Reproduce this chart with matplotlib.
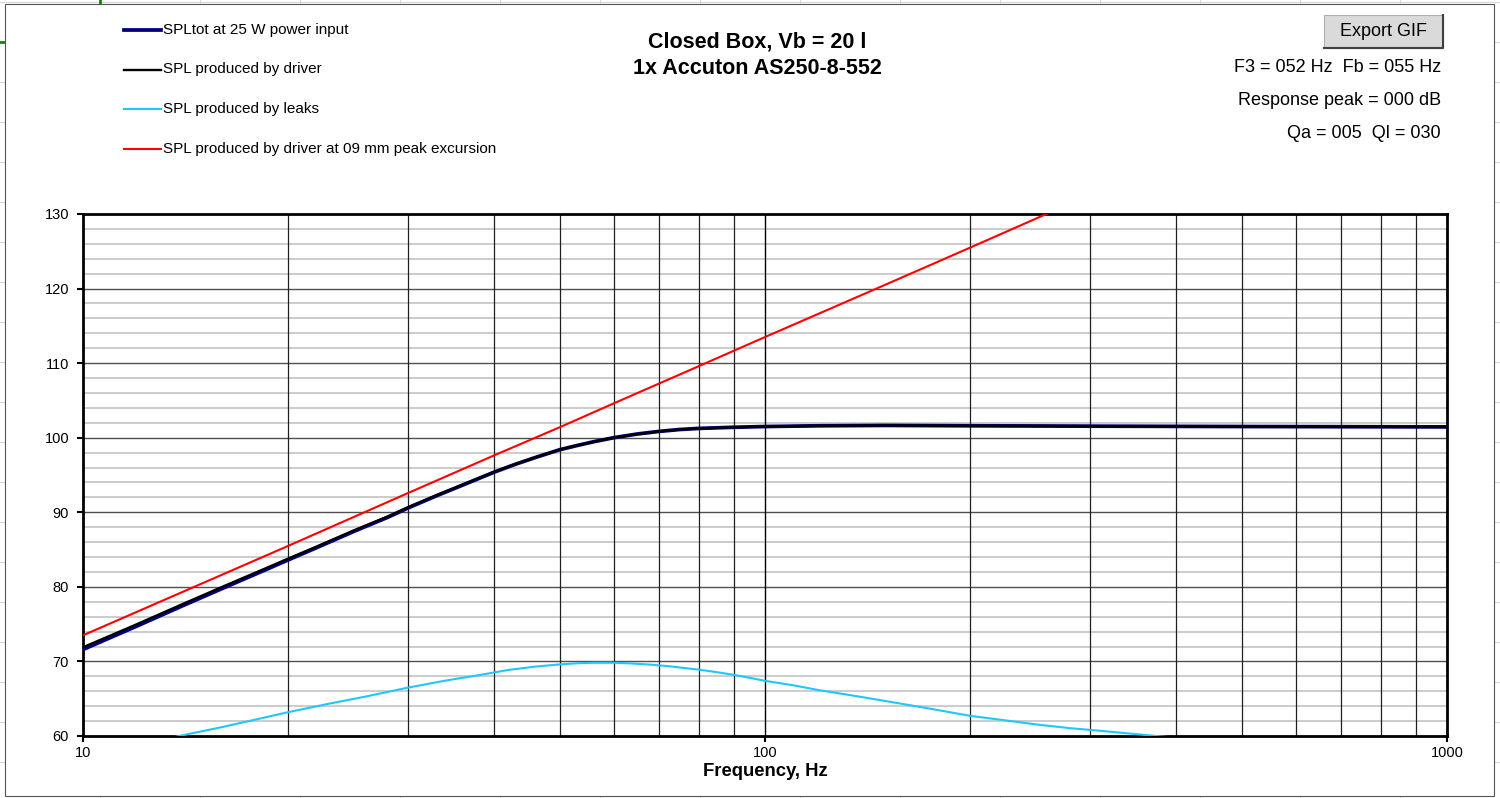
import numpy as np
import matplotlib.pyplot as plt
from matplotlib.lines import Line2D
from matplotlib.patches import Rectangle

plt.rcParams['font.family'] = ['Liberation Sans', 'DejaVu Sans']

# ---------------- data ----------------
# SPLtot at 25 W (blue) and SPL of driver (black)
f_main = [10, 12, 14, 16, 18, 20, 22, 25, 28, 30, 33, 36, 40, 43, 46, 50, 53, 56,
          60, 65, 70, 75, 80, 90, 100, 120, 150, 200, 300, 500, 1000]
spl_drv = [71.9, 75.0, 77.7, 80.0, 82.0, 83.8, 85.4, 87.6, 89.45, 90.7, 92.3, 93.7,
           95.4, 96.45, 97.35, 98.4, 98.95, 99.45, 100.0, 100.5, 100.85, 101.1, 101.25,
           101.4, 101.5, 101.6, 101.65, 101.6, 101.55, 101.5, 101.45]
spl_tot = [71.6, 74.75, 77.47, 79.78, 81.8, 83.62, 85.25, 87.47, 89.34, 90.6, 92.22,
           93.63, 95.35, 96.42, 97.33, 98.39, 98.95, 99.45, 100.0, 100.5, 100.85, 101.1,
           101.25, 101.4, 101.5, 101.6, 101.65, 101.6, 101.55, 101.5, 101.45]

# SPL produced by leaks (cyan)
f_leak = [12, 14, 16, 18, 20, 23, 26, 30, 34, 38, 42, 46, 50, 53, 56, 60, 64, 68,
          72, 76, 80, 85, 90, 95, 100, 110, 120, 135, 150, 175, 200, 225, 250, 280,
          310, 350, 380, 420]
spl_leak = [58.7, 60.1, 61.2, 62.25, 63.2, 64.35, 65.3, 66.5, 67.43, 68.15, 68.85,
            69.3, 69.6, 69.75, 69.82, 69.82, 69.72, 69.57, 69.37, 69.13, 68.9, 68.56,
            68.2, 67.8, 67.4, 66.8, 66.15, 65.4, 64.7, 63.65, 62.7, 62.1, 61.55, 61.05,
            60.7, 60.25, 59.95, 59.6]

# SPL at 09 mm peak excursion (red)
f_xmax = [10, 20, 30, 40, 50, 60, 80, 100, 150, 200, 300]
spl_xmax = [73.5, 85.5, 92.6, 97.6, 101.4, 104.6, 109.6, 113.5, 120.5, 125.5, 132.6]

legend_labels = ['SPLtot at 25 W power input', 'SPL produced by driver',
                 'SPL produced by leaks', 'SPL produced by driver at 09 mm peak excursion']
info_lines = ['F3 = 052 Hz  Fb = 055 Hz', 'Response peak = 000 dB', 'Qa = 005  Ql = 030']

W, H = 1500, 798


def fx(x):
    return x / W


def fy(y):
    return 1 - y / H


fig = plt.figure(figsize=(15, 7.98), dpi=100)

# Excel sheet grid behind the chart
for x in range(100, W, 100):
    fig.add_artist(Line2D([fx(x), fx(x)], [0, 1], color='#d6d6d6', lw=0.8, zorder=0))
for y in range(2, H, 40):
    fig.add_artist(Line2D([0, 1], [fy(y), fy(y)], color='#d6d6d6', lw=0.8, zorder=0))
fig.add_artist(Line2D([fx(100), fx(100)], [fy(0), fy(5)], color='#1e7b1e', lw=2, zorder=0))
fig.add_artist(Line2D([0, fx(5)], [fy(42), fy(42)], color='#1e7b1e', lw=2, zorder=0))

# chart area
fig.add_artist(Rectangle((fx(5), fy(796)), fx(1494) - fx(5), fy(4) - fy(796),
                         facecolor='white', edgecolor='#555555', lw=0.8, zorder=0.5))

ax = fig.add_axes([fx(83), fy(736), fx(1447) - fx(83), fy(214) - fy(736)])
ax.set_zorder(1)

ax.plot(f_main, spl_tot, color='#000080', lw=2.7, zorder=4)
ax.plot(f_main, spl_drv, color='black', lw=1.7, zorder=5)
ax.plot(f_leak, spl_leak, color='#1ec8f8', lw=1.5, zorder=4)
ax.plot(f_xmax, spl_xmax, color='red', lw=1.5, zorder=4)

ax.set_xscale('log')
ax.set_xlim(10, 1000)
ax.set_ylim(60, 130)

ax.set_xticks([10, 100, 1000])
ax.set_xticklabels(['10', '100', '1000'])
ax.set_xticks([], minor=True)
ax.set_yticks(np.arange(60, 131, 10))
ax.set_yticks(np.arange(60, 131, 2), minor=True)
ax.tick_params(axis='y', which='minor', length=0)
ax.tick_params(axis='both', which='major', direction='out', length=4, width=1.5,
               labelsize=10.5, pad=3)
ax.tick_params(axis='y', which='major', pad=6)

# grid lines
for v in np.arange(60, 131, 2):
    if v % 10:
        ax.axhline(v, color='#c8c8c8', lw=1.3, zorder=1)
for v in np.arange(70, 130, 10):
    ax.axhline(v, color='#505050', lw=1.0, zorder=2)
for dec in [10, 100]:
    for m in range(2, 10):
        ax.axvline(dec * m, color='#202020', lw=0.9, zorder=2)
ax.axvline(100, color='black', lw=1.0, zorder=2)

for s in ax.spines.values():
    s.set_linewidth(2)

ax.set_xlabel('Frequency, Hz', fontsize=13.3, fontweight='bold', labelpad=2)

# title
fig.text(fx(757), fy(42), 'Closed Box, Vb = 20 l', ha='center', va='center',
         fontsize=15.5, fontweight='bold')
fig.text(fx(757), fy(68), '1x Accuton AS250-8-552', ha='center', va='center',
         fontsize=15.5, fontweight='bold')

# legend
leg_styles = [('#000080', 2.7), ('black', 1.7), ('#1ec8f8', 1.5), ('red', 1.5)]
for i, (lab, (c, lw)) in enumerate(zip(legend_labels, leg_styles)):
    y = 30 + i * 39.5
    fig.add_artist(Line2D([fx(124), fx(161)], [fy(y), fy(y)], color=c, lw=lw))
    fig.text(fx(163), fy(y), lab, ha='left', va='center', fontsize=11)

# Export GIF button
fig.add_artist(Rectangle((fx(1324), fy(48)), fx(1443) - fx(1324), fy(15) - fy(48),
                         facecolor='#dadada', edgecolor='#b0b0b0', lw=0.8))
fig.add_artist(Line2D([fx(1443), fx(1443), fx(1324)], [fy(15), fy(48), fy(48)],
                      color='#404040', lw=1.5))
fig.text(fx(1384), fy(32), 'Export GIF', ha='center', va='center', fontsize=13)

for i, t in enumerate(info_lines):
    fig.text(fx(1441), fy(67 + i * 33.5), t, ha='right', va='center', fontsize=13)

fig.savefig('out.png', dpi=100)
